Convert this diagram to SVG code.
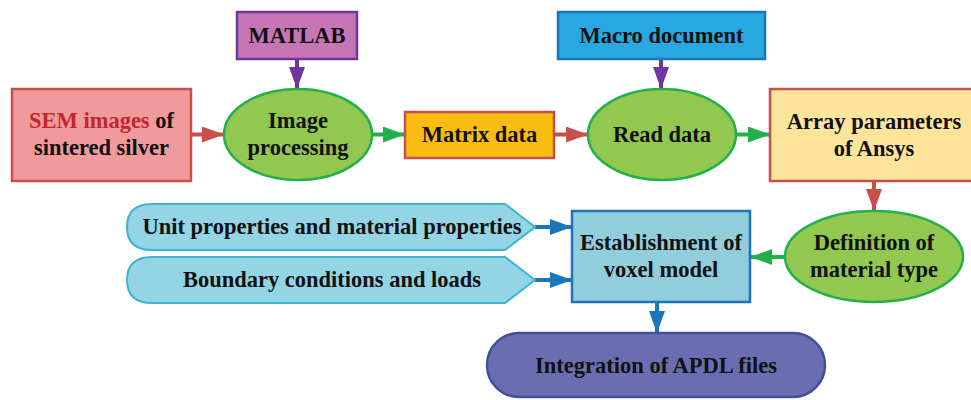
<svg xmlns="http://www.w3.org/2000/svg" width="971" height="400" viewBox="0 0 971 400">
<style>
text{font-family:"Liberation Serif","Times New Roman",serif;font-weight:700;font-size:22.5px;fill:#111;text-anchor:middle}
.red{fill:#C3262E}
.ln{stroke-width:4;fill:none}
.r{stroke:#C9504A}.g{stroke:#22B04A}.p{stroke:#7035A0}.b{stroke:#1C75BC}
.ell{fill:#92C850;stroke:#22B04A;stroke-width:2.5}
</style>
<defs>
<marker id="ar" markerUnits="userSpaceOnUse" markerWidth="22" markerHeight="16" refX="22" refY="8" orient="auto"><path d="M0,0 L22,8 L0,16 Z" fill="#C9504A"/></marker>
<marker id="ag" markerUnits="userSpaceOnUse" markerWidth="22" markerHeight="16" refX="22" refY="8" orient="auto"><path d="M0,0 L22,8 L0,16 Z" fill="#22B04A"/></marker>
<marker id="ap" markerUnits="userSpaceOnUse" markerWidth="22" markerHeight="16" refX="22" refY="8" orient="auto"><path d="M0,0 L22,8 L0,16 Z" fill="#7035A0"/></marker>
<marker id="ab" markerUnits="userSpaceOnUse" markerWidth="22" markerHeight="16" refX="22" refY="8" orient="auto"><path d="M0,0 L22,8 L0,16 Z" fill="#1C75BC"/></marker>
</defs>
<g id="connectors">
<line class="ln r" x1="191" y1="134.5" x2="224" y2="134.5" marker-end="url(#ar)"/>
<line class="ln p" x1="297" y1="59" x2="297" y2="89" marker-end="url(#ap)"/>
<line class="ln g" x1="372" y1="134.5" x2="405" y2="134.5" marker-end="url(#ag)"/>
<line class="ln r" x1="554" y1="134.5" x2="588" y2="134.5" marker-end="url(#ar)"/>
<line class="ln p" x1="661" y1="59" x2="661" y2="89" marker-end="url(#ap)"/>
<line class="ln g" x1="736" y1="134.5" x2="770" y2="134.5" marker-end="url(#ag)"/>
<line class="ln r" x1="874" y1="181" x2="874" y2="211" marker-end="url(#ar)"/>
<line class="ln g" x1="785" y1="257" x2="750" y2="257" marker-end="url(#ag)"/>
<line class="ln b" x1="535" y1="227" x2="572" y2="227" marker-end="url(#ab)"/>
<line class="ln b" x1="535" y1="280" x2="572" y2="280" marker-end="url(#ab)"/>
<line class="ln b" x1="657" y1="302" x2="657" y2="333" marker-end="url(#ab)"/>
</g>
<g id="sem">
<rect x="12" y="89" width="179" height="92" fill="#F19A9C" stroke="#C9504A" stroke-width="2.5"/>
<text x="101.5" y="128"><tspan class="red">SEM images</tspan> of</text>
<text x="101.5" y="155">sintered silver</text>
</g>
<g id="matlab">
<rect x="237" y="12" width="120" height="47" fill="#C676B4" stroke="#7035A0" stroke-width="2.5"/>
<text x="297" y="43">MATLAB</text>
</g>
<g id="imageproc">
<ellipse class="ell" cx="298" cy="134.5" rx="74" ry="45.5"/>
<text x="298" y="128">Image</text>
<text x="298" y="155">processing</text>
</g>
<g id="matrix">
<rect x="405" y="112" width="149" height="46" fill="#FBBC11" stroke="#C9504A" stroke-width="2.5"/>
<text x="479.5" y="142">Matrix data</text>
</g>
<g id="macro">
<rect x="558" y="12" width="207" height="47" fill="#27A8E0" stroke="#1C74BB" stroke-width="2.5"/>
<text x="661.5" y="43">Macro document</text>
</g>
<g id="readdata">
<ellipse class="ell" cx="662" cy="134.5" rx="74" ry="45.5"/>
<text x="662" y="142">Read data</text>
</g>
<g id="array">
<rect x="770" y="89" width="210" height="92" fill="#FCE49B" stroke="#C9504A" stroke-width="2.5"/>
<text x="874" y="129">Array parameters</text>
<text x="874" y="156">of Ansys</text>
</g>
<g id="definition">
<ellipse class="ell" cx="874" cy="256.5" rx="89" ry="45.5"/>
<text x="874" y="250">Definition of</text>
<text x="874" y="277">material type</text>
</g>
<g id="establishment">
<rect x="572" y="211" width="178" height="91" fill="#92CDDC" stroke="#1C74BB" stroke-width="2.5"/>
<text x="661" y="250">Establishment of</text>
<text x="661" y="277">voxel model</text>
</g>
<g id="unitprops">
<path d="M152,204 H505 L535,227 L505,250 H152 Q127,250 127,227 Q127,204 152,204 Z" fill="#93D5E4" stroke="#3FB3CF" stroke-width="2"/>
<text x="332" y="234">Unit properties and material properties</text>
</g>
<g id="boundary">
<path d="M152,257 H505 L535,280 L505,303 H152 Q127,303 127,280 Q127,257 152,257 Z" fill="#93D5E4" stroke="#3FB3CF" stroke-width="2"/>
<text x="332" y="287">Boundary conditions and loads</text>
</g>
<g id="integration">
<rect x="487" y="333" width="338" height="64" rx="32" ry="32" fill="#6A6EB0" stroke="#3F4FA0" stroke-width="2.5"/>
<text x="656" y="373">Integration of APDL files</text>
</g>
</svg>
